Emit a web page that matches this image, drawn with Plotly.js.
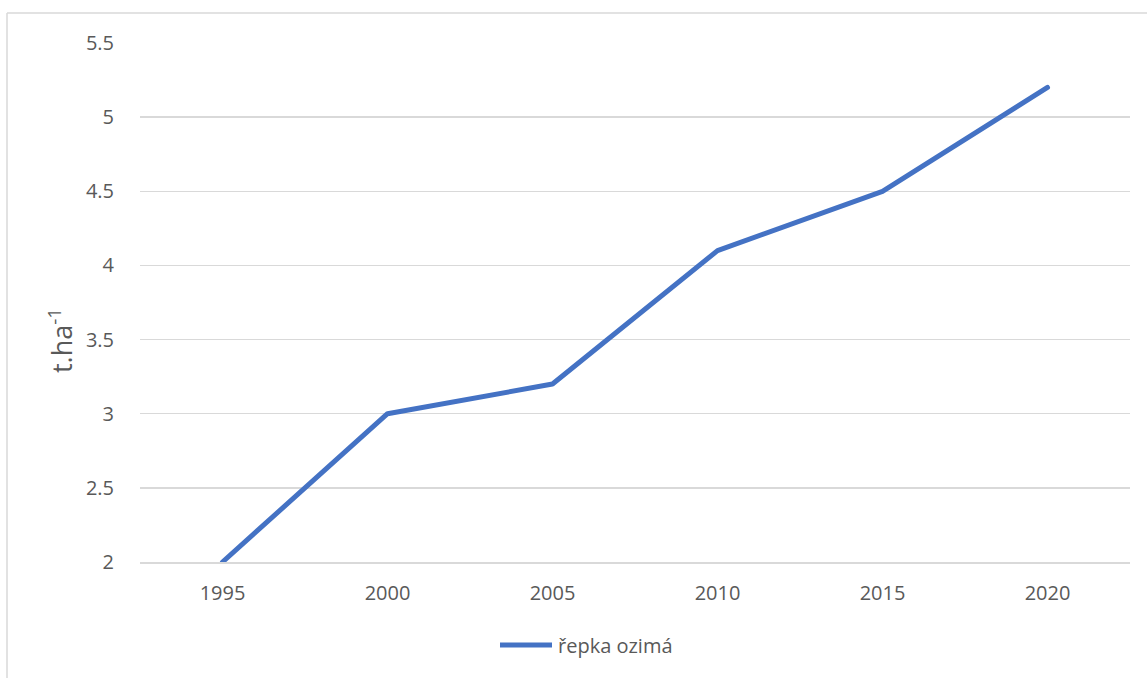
<!DOCTYPE html>
<html>
<head>
<meta charset="utf-8">
<script src="https://cdn.plot.ly/plotly-3.0.1.min.js"></script>
<style>
html,body{margin:0;padding:0;background:#fff;}
#chart{width:1147px;height:678px;}
.scatterlayer path.js-line{stroke-linecap:round;stroke-linejoin:round;}
</style>
</head>
<body>
<div id="chart"></div>
<script>
const years = ['1995', '2000', '2005', '2010', '2015', '2020'];
const yields = [2, 3, 3.2, 4.1, 4.5, 5.2];
const seriesName = 'řepka ozimá';
const yTitle = 't.ha<sup>-1</sup>';
const yTicks = [2, 2.5, 3, 3.5, 4, 4.5, 5, 5.5];
const yTickLabels = ['2', '2.5', '3', '3.5', '4', '4.5', '5', '5.5'];

const W = 1147, H = 678;
const L = 140, R = 17, T = 43, B = 116;
const pw = W - L - R, ph = H - T - B;
const px = x => (x - L) / pw;
const py = y => (H - B - y) / ph;

const font = 'Open Sans, Liberation Sans, sans-serif';
const tc = '#595959';
const lineColor = '#4472c4';

const trace = {
  x: years, y: yields, type: 'scatter', mode: 'lines', name: seriesName,
  line: {color: lineColor, width: 5}, showlegend: false
};

const layout = {
  width: W, height: H,
  margin: {l: L, r: R, t: T, b: B, pad: 0},
  paper_bgcolor: '#fff', plot_bgcolor: '#fff',
  font: {family: font, color: tc, size: 20},
  xaxis: {
    type: 'category', range: [-0.5, 5.5], showgrid: false, zeroline: false,
    showline: true, linecolor: '#d9d9d9', linewidth: 1.5,
    ticks: 'outside', ticklen: 12, tickcolor: 'rgba(0,0,0,0)',
    tickfont: {family: font, size: 20, color: tc}, fixedrange: true
  },
  yaxis: {
    range: [2, 5.5], tickvals: yTicks, ticktext: yTickLabels,
    showgrid: true, gridcolor: '#d9d9d9', gridwidth: 1.5, zeroline: false,
    showline: false, ticks: 'outside', ticklen: 21, tickcolor: 'rgba(0,0,0,0)',
    tickfont: {family: font, size: 20, color: tc}, fixedrange: true
  },
  showlegend: false,
  annotations: [
    {
      text: yTitle, xref: 'paper', yref: 'paper', x: px(60), y: py(341),
      xanchor: 'center', yanchor: 'middle', textangle: -90, showarrow: false,
      font: {family: font, size: 27, color: tc}
    },
    {
      text: seriesName, xref: 'paper', yref: 'paper', x: px(556), y: py(645),
      xanchor: 'left', yanchor: 'middle', showarrow: false,
      font: {family: font, size: 20, color: tc}
    }
  ],
  shapes: [
    {type: 'line', xref: 'paper', yref: 'paper', x0: px(7), x1: px(1147), y0: py(13), y1: py(13), line: {color: '#d9d9d9', width: 1.5}},
    {type: 'line', xref: 'paper', yref: 'paper', x0: px(7), x1: px(7), y0: py(13), y1: py(678), line: {color: '#d9d9d9', width: 1.5}},
    {type: 'line', xref: 'paper', yref: 'paper', x0: px(500), x1: px(552), y0: py(645), y1: py(645), line: {color: lineColor, width: 5}}
  ]
};

Plotly.newPlot('chart', [trace], layout, {displayModeBar: false, staticPlot: true});
</script>
</body>
</html>
